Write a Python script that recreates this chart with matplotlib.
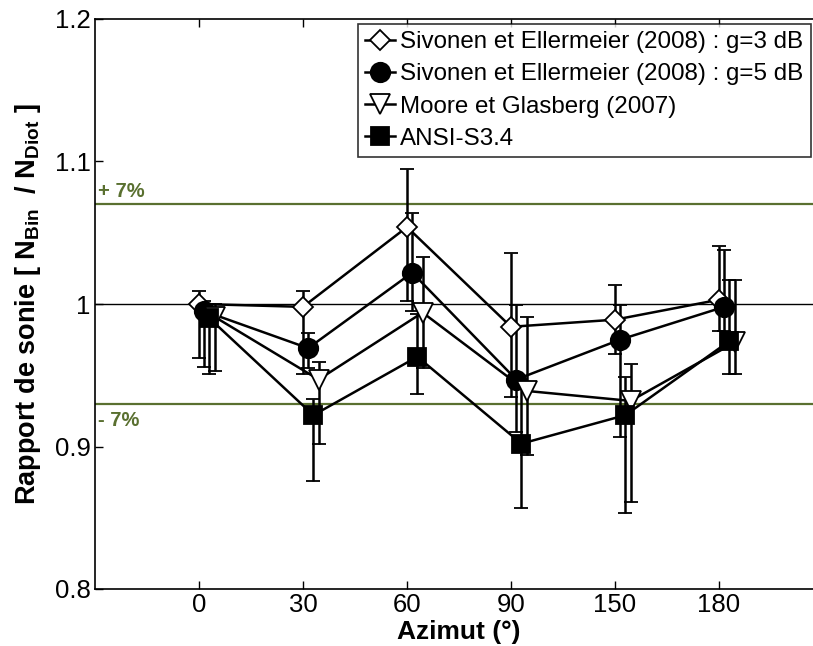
import numpy as np
import matplotlib
matplotlib.use("Agg")
from matplotlib import pyplot as plt
from matplotlib.lines import Line2D

plt.rcParams['font.family'] = ['Liberation Sans', 'DejaVu Sans']
plt.rcParams['mathtext.fontset'] = 'custom'
plt.rcParams['mathtext.rm'] = 'Liberation Sans'
plt.rcParams['mathtext.bf'] = 'Liberation Sans:bold'

azimuts = ['0', '30', '60', '90', '150', '180']

# Sivonen et Ellermeier (2008) : g=3 dB
sive3 = [1.000, 0.998, 1.054, 0.984, 0.989, 1.003]
sive3_hi = [1.009, 1.009, 1.095, 1.036, 1.013, 1.041]
sive3_lo = [0.962, 0.951, 1.002, 0.935, 0.965, 0.981]

# Sivonen et Ellermeier (2008) : g=5 dB
sive5 = [0.995, 0.969, 1.022, 0.947, 0.975, 0.998]
sive5_hi = [1.002, 0.980, 1.064, 0.999, 0.999, 1.038]
sive5_lo = [0.956, 0.955, 0.995, 0.910, 0.907, 0.981]

# Moore et Glasberg (2007)
moore = [0.991, 0.947, 0.994, 0.939, 0.932, 0.973]
moore_hi = [1.000, 0.959, 1.033, 0.991, 0.958, 1.017]
moore_lo = [0.953, 0.902, 0.955, 0.894, 0.861, 0.951]

# ANSI-S3.4
ansi = [0.990, 0.922, 0.963, 0.902, 0.922, 0.974]
ansi_hi = [1.000, 0.933, 0.993, 0.947, 0.949, 1.017]
ansi_lo = [0.951, 0.876, 0.937, 0.857, 0.853, 0.951]

green = '#5a7030'

fig = plt.figure(figsize=(8.13, 6.46), dpi=100)
ax = fig.add_axes([95/813, 57/646, 728/813, 570/646])

x = np.arange(len(azimuts))

ax.axhline(1.0, color='black', lw=1.0, zorder=1)
ax.axhline(1.07, color=green, lw=1.6, zorder=1)
ax.axhline(0.93, color=green, lw=1.6, zorder=1)

handles = []
def serie(vals, hi, lo, dx, marker, ms, face, label):
    vals = np.array(vals)
    yerr = [vals - np.array(lo), np.array(hi) - vals]
    ax.errorbar(x + dx, vals, yerr=yerr, color='black', lw=1.8, elinewidth=1.8,
                capsize=5, capthick=1.8, marker=marker, ms=ms, mfc=face,
                mec='black', mew=1.3, zorder=3)
    handles.append(Line2D([], [], color='black', lw=1.8, marker=marker, ms=ms,
                          mfc=face, mec='black', mew=1.3, label=label))

serie(sive3, sive3_hi, sive3_lo, 0.0, 'D', 10, 'white',
      'Sivonen et Ellermeier (2008) : g=3 dB')
serie(sive5, sive5_hi, sive5_lo, 0.05, 'o', 14, 'black',
      'Sivonen et Ellermeier (2008) : g=5 dB')
serie(moore, moore_hi, moore_lo, 0.15, 'v', 14, 'white',
      'Moore et Glasberg (2007)')
serie(ansi, ansi_hi, ansi_lo, 0.10, 's', 12.5, 'black', 'ANSI-S3.4')

ax.text(-0.97, 1.072, '+ 7%', color=green, fontsize=14.5, fontweight='bold',
        va='bottom', ha='left')
ax.text(-0.97, 0.925, '- 7%', color=green, fontsize=14.5, fontweight='bold',
        va='top', ha='left')

ax.set_xlim(-1, 6)
ax.set_ylim(0.8, 1.2)
ax.set_xticks(x)
ax.set_xticklabels(azimuts)
ax.set_yticks([0.8, 0.9, 1.0, 1.1, 1.2])
ax.set_yticklabels(['0.8', '0.9', '1', '1.1', '1.2'])
ax.tick_params(direction='in', length=6, width=1, labelsize=18.5, pad=3,
               top=True, right=True)
for s in ax.spines.values():
    s.set_linewidth(1.2)

ax.set_xlabel('Azimut (°)', fontsize=19, fontweight='bold', labelpad=2)
ax.set_ylabel(r'Rapport de sonie [ $\mathbf{N_{Bin}}$  / $\mathbf{N_{Diot}}$ ]',
              fontsize=19.5, fontweight='bold')
ax.yaxis.set_label_coords(-0.071, 0.5)

leg = ax.legend(handles=handles, loc='upper left',
                bbox_to_anchor=(358/813, 1 - 24/646),
                bbox_transform=fig.transFigure, fontsize=17.4, frameon=True,
                fancybox=False, edgecolor='black', borderaxespad=0,
                handlelength=1.25, handletextpad=0.2, labelspacing=0.42,
                borderpad=0.3)
leg.get_frame().set_linewidth(1.2)

fig.savefig('out.png', dpi=100)
